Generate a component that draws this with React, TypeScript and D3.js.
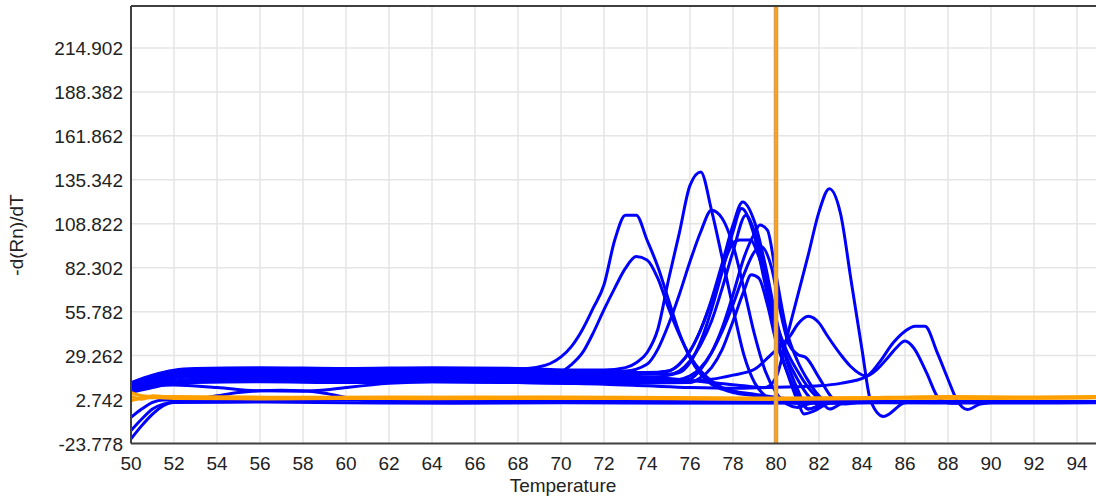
import React from 'react';
import * as d3 from 'd3';

type Pt = [number, number];

const xTicks = [50, 52, 54, 56, 58, 60, 62, 64, 66, 68, 70, 72, 74, 76, 78, 80, 82, 84, 86, 88, 90, 92, 94];
const yTicks = [-23.778, 2.742, 29.262, 55.782, 82.302, 108.822, 135.342, 161.862, 188.382, 214.902];
const markerTemp = 80;

// blue melt curves: [temperature, -d(Rn)/dT]
const lowA: Pt[] = [[50, -21], [50.5, -13], [51, -6], [51.5, -1], [52, 1.5], [53, 3], [54, 5], [55, 7], [56, 8], [57, 8.3], [58, 8], [59, 6.5], [60, 4], [61, 2], [62, 1.2], [66, 1], [70, 1], [75, 0.8], [80, 0.8], [85, 1], [90, 1], [95, 1]];
const lowB: Pt[] = [[50, -16], [50.5, -9], [51, -3], [51.5, 0], [52, 1], [56, 1.2], [60, 0.8], [65, 0.5], [70, 0.8], [76, 0.6], [80, 0.6], [85, 0.8], [90, 0.6], [95, 0.8]];
const lowC: Pt[] = [[50, -8], [50.5, -3], [51, 1], [51.5, 2.5], [52, 2.5], [55, 2.8], [60, 2.5], [65, 2], [70, 1.8], [75, 1.5], [80, 1.2], [85, 1], [95, 1.2]];
const peak73a: Pt[] = [[50, 12], [51, 16], [52, 19.5], [53, 20.5], [56, 21], [60, 20.5], [64, 21], [67, 20.5], [68, 21], [69, 22.5], [69.5, 24.5], [70, 28.5], [70.5, 35], [71, 45], [71.5, 58], [72, 72], [72.5, 99], [73, 114], [73.5, 114], [74, 99], [74.5, 83], [75, 63], [75.5, 43], [76, 28], [76.5, 18], [77, 12], [77.5, 9], [78, 7], [79, 5], [80, 3], [82, 1.8], [86, 1.5], [95, 1.5]];
const peak73b: Pt[] = [[50, 10], [51, 14], [52, 17], [53, 18], [56, 18.5], [60, 18], [64, 18.5], [68, 18], [69, 18], [70, 19.5], [70.5, 24], [71, 31], [71.5, 43], [72, 57], [72.5, 70], [73, 82], [73.5, 89], [74, 87], [74.5, 76], [75, 58], [75.5, 42], [76, 29], [76.5, 20], [77, 14], [77.5, 10], [78, 8], [79, 6], [80, 4], [82, 2], [86, 1.5], [95, 1.5]];
const peak76: Pt[] = [[50, 13], [51, 17.5], [52, 20.5], [53, 21.5], [56, 22], [60, 21.5], [64, 22], [68, 21.5], [71, 20.5], [72, 20.5], [73, 22], [73.5, 25], [74, 31], [74.5, 45], [75, 75], [75.5, 103], [76, 132], [76.5, 140], [77, 117], [77.5, 88], [78, 58], [78.5, 30], [79, 13], [79.5, 5], [80, 2], [81, 0.5], [85, 1.5], [95, 1.5]];
const peak77: Pt[] = [[50, 11], [51, 16], [52, 19.5], [53, 21], [56, 21.5], [60, 21], [64, 21.5], [68, 21], [71, 20], [73, 20], [74, 24], [74.5, 33], [75, 48], [75.5, 66], [76, 86], [76.5, 104], [77, 117], [77.5, 112], [78, 96], [78.5, 70], [79, 42], [79.5, 20], [80, 7], [80.5, 0], [81, -2], [81.5, 0], [82, 1.2], [88, 1.5], [95, 1.3]];
const peak78a: Pt[] = [[50, 10.5], [51, 15], [52, 18.5], [53, 19.5], [56, 20], [60, 19.5], [64, 20], [68, 19.5], [72, 19], [74, 18.5], [75, 20], [75.5, 24], [76, 32], [76.5, 45], [77, 63], [77.5, 85], [78, 108], [78.45, 122], [79, 110], [79.5, 84], [80, 52], [80.5, 26], [81, 9], [81.5, -3], [82, -1], [82.5, 1], [88, 1.3], [95, 1.3]];
const peak78b: Pt[] = [[50, 9], [51, 13], [52, 16], [53, 17], [56, 17.5], [60, 17], [64, 17.5], [68, 17], [72, 16.5], [74, 16], [75.5, 19], [76, 25], [76.5, 38], [77, 57], [77.5, 80], [78, 104], [78.4, 118], [79, 101], [79.5, 72], [80, 42], [80.5, 20], [81, 2], [81.3, -6], [81.8, -4], [82.5, 0.5], [88, 1.2], [95, 1.2]];
const peak78c: Pt[] = [[50, 11], [51, 15.5], [52, 19], [53, 20], [56, 20.5], [60, 20], [64, 20.5], [68, 20], [72, 19.5], [74, 19], [75, 20], [75.5, 24], [76, 32], [76.5, 45], [77, 62], [77.5, 82], [78, 97], [78.3, 99], [78.8, 99], [79.2, 89], [79.5, 76], [80, 47], [80.5, 28], [81, 15], [81.5, 5], [82, -0.5], [82.5, 1], [88, 1.4], [95, 1.4]];
const peak79a: Pt[] = [[50, 8], [51, 11], [52, 13], [53, 14], [56, 14.5], [60, 14], [64, 14.5], [68, 14], [72, 13.5], [75, 13], [76, 15], [76.5, 21], [77, 31], [77.5, 46], [78, 66], [78.5, 88], [79, 103], [79.25, 108], [79.6, 105], [80, 78], [80.5, 44], [81, 26], [81.5, 14], [82, 5], [82.5, 1], [88, 1.4], [95, 1.4]];
const peak79b: Pt[] = [[50, 7], [51, 10], [52, 12.5], [53, 13], [56, 13.5], [60, 13], [64, 13.5], [68, 13], [72, 12.5], [76, 13], [76.5, 16], [77, 22], [77.5, 33], [78, 50], [78.5, 68], [78.85, 78], [79.2, 76], [79.6, 60], [80, 38], [80.5, 20], [81, 6], [81.5, -3], [82, -1], [82.5, 1], [95, 1.2]];
const peak78d: Pt[] = [[50, 10], [51, 14], [52, 17.5], [53, 18.5], [56, 19], [60, 18.5], [64, 19], [68, 18.5], [72, 18], [75, 18], [75.5, 20], [76, 26], [76.5, 36], [77, 50], [77.5, 70], [78, 92], [78.6, 114], [79, 104], [79.5, 80], [80, 50], [80.5, 32], [81, 20], [81.5, 10], [82, 3], [82.5, -3], [83, 0], [83.5, 1.2], [95, 1.2]];
const peak79c: Pt[] = [[50, 8.5], [51, 12], [52, 14], [53, 15], [56, 15.5], [60, 15], [64, 15.5], [68, 15], [72, 14.5], [75, 14], [76, 17], [76.5, 22], [77, 31], [77.5, 44], [78, 60], [78.5, 78], [79, 92], [79.3, 95], [79.8, 82], [80.2, 56], [80.6, 36], [81, 30], [81.4, 28], [82, 16], [82.6, 4], [83.2, 0], [84, 1.2], [95, 1.2]];
const peak82: Pt[] = [[50, 12], [51, 15], [52, 18], [53, 19], [56, 19.5], [60, 19], [64, 19.5], [68, 19], [72, 17.5], [75, 15.5], [77, 13], [78.5, 11], [79.5, 10], [80, 16], [80.5, 40], [81, 65], [81.5, 90], [82, 116], [82.48, 130], [83, 115], [83.5, 74], [84, 33], [84.4, 2], [85, -7.5], [86, 0.8], [87, 1.5], [95, 1.5]];
const peak81and86: Pt[] = [[50, 9], [51, 13], [52, 15.5], [53, 16.5], [56, 16.5], [60, 16], [64, 16.5], [68, 16], [72, 15.5], [74, 14.5], [76, 14], [77, 15], [78, 17.5], [79, 21], [79.7, 29], [80.2, 35], [80.65, 41], [81, 48], [81.5, 53], [82, 49], [82.35, 42], [83, 30], [83.45, 23], [84.2, 17], [84.7, 21], [85.2, 28], [85.6, 34], [86, 38], [86.4, 34], [87, 19], [87.6, 3], [88.2, 0.5], [89, 1.2], [95, 1.2]];
const peak87: Pt[] = [[50, 8], [51, 11], [52, 11.5], [54, 10], [56, 8], [58, 7.8], [59, 8.5], [60, 10], [62, 12.5], [64, 13.5], [68, 13], [70, 12.5], [72, 12], [74, 11], [76, 10], [78, 9.5], [79.6, 10], [81, 10.5], [82, 11], [83, 12.5], [84.2, 16.6], [84.8, 25], [85.45, 37], [86, 44], [86.47, 47], [86.93, 47], [87.5, 31], [88, 15], [88.4, 2.8], [88.9, -3.3], [89.5, 0], [90.5, 1.2], [95, 1.2]];

// orange (negative control) curves
const flatA: Pt[] = [[50, 7], [50.5, 5], [51, 4.5], [52, 4.5], [54, 4.3], [58, 4], [62, 3.8], [66, 4], [70, 4.2], [75, 3.9], [80, 3.6], [85, 4], [88, 4.5], [92, 4.2], [95, 4.5]];
const flatB: Pt[] = [[50, 2], [50.5, 3.5], [51, 4], [52, 3.5], [56, 3.2], [60, 3.5], [64, 3.3], [70, 3.5], [75, 3.3], [80, 3], [84, 3.3], [88, 3.8], [92, 3.6], [95, 4]];
const flatC: Pt[] = [[50, 4.5], [50.5, 3], [51, 5], [52, 4], [56, 3.8], [62, 4.2], [68, 4], [74, 3.6], [80, 3.2], [86, 3.8], [90, 3.5], [95, 4]];

const blueCurves = [lowA, lowB, lowC, peak73a, peak73b, peak76, peak77, peak78a, peak78b, peak78c, peak79a, peak79b, peak78d, peak79c, peak82, peak81and86, peak87];
const orangeCurves = [flatA, flatB, flatC];

const font = '"Liberation Sans", Arial, sans-serif';

export default function App() {
  const width = 1096;
  const height = 499;
  const left = 131;
  const top = 6;
  const bottom = 443.5;

  const x = d3.scaleLinear().domain([50, 95]).range([left, 1098.5]);
  const y = d3.scaleLinear().domain([-23.778, 240.2]).range([bottom, top]);

  const line = d3.line<Pt>()
    .x(d => x(d[0]))
    .y(d => y(d[1]))
    .curve(d3.curveMonotoneX);

  return (
    <svg width={width} height={height} style={{ position: 'absolute', left: 0, top: 0, display: 'block', background: '#fff' }}>
      <defs>
        <clipPath id="plot">
          <rect x={left} y={top} width={width - left} height={bottom - top} />
        </clipPath>
      </defs>

      {/* grid */}
      <g stroke="#e5e5e5" strokeWidth={1.5}>
        {xTicks.slice(1).map(t => (
          <line key={'gx' + t} x1={x(t)} x2={x(t)} y1={top} y2={bottom} />
        ))}
        {yTicks.slice(1).map(t => (
          <line key={'gy' + t} x1={left} x2={width} y1={y(t)} y2={y(t)} />
        ))}
      </g>

      <g clipPath="url(#plot)" fill="none" strokeLinejoin="round">
        {blueCurves.map((c, i) => (
          <path key={'b' + i} d={line(c) || ''} stroke="#0000ff" strokeWidth={3} />
        ))}
        {orangeCurves.map((c, i) => (
          <path key={'o' + i} d={line(c) || ''} stroke="#ffa000" strokeWidth={3.2} />
        ))}
        <line x1={x(markerTemp)} x2={x(markerTemp)} y1={top} y2={bottom} stroke="#c99a62" strokeWidth={4.5} />
        <line x1={x(markerTemp)} x2={x(markerTemp)} y1={top} y2={bottom} stroke="#ffa31a" strokeWidth={2.5} />
      </g>

      {/* frame */}
      <g stroke="#3f3f3f" strokeWidth={2} fill="none">
        <line x1={left} x2={width} y1={top} y2={top} />
        <line x1={left} x2={left} y1={top} y2={bottom} />
        <line x1={left} x2={width} y1={bottom} y2={bottom} />
      </g>

      {/* tick labels */}
      <g fontFamily={font} fontSize={19} fill="#222">
        {yTicks.map(t => (
          <text key={'ty' + t} x={123} y={y(t) + 7} textAnchor="end">{t.toFixed(3)}</text>
        ))}
        {xTicks.map(t => (
          <text key={'tx' + t} x={x(t)} y={470} textAnchor="middle">{t}</text>
        ))}
        <text x={563} y={492} textAnchor="middle">Temperature</text>
        <text transform="translate(23,235) rotate(-90)" textAnchor="middle">-d(Rn)/dT</text>
      </g>
    </svg>
  );
}
